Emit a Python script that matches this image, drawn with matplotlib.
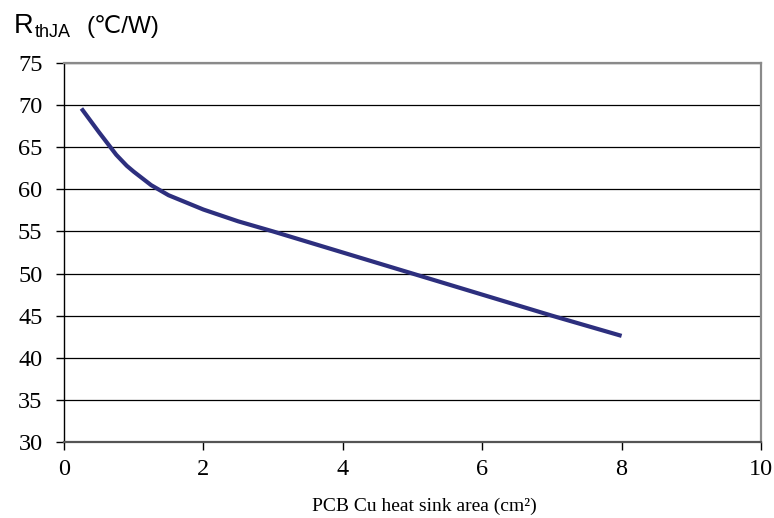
import matplotlib
matplotlib.use("Agg")
import matplotlib.pyplot as plt

# Data
area_cm2 = [0.25, 0.5, 0.75, 0.9, 1.0, 1.25, 1.5, 2.0, 2.5, 3.0, 4.0, 5.0, 6.0, 7.0, 8.0]
rth_ja = [69.6, 66.8, 64.1, 62.8, 62.1, 60.5, 59.3, 57.6, 56.2, 55.0, 52.5, 50.0, 47.5, 45.0, 42.6]
x_ticks = [0, 2, 4, 6, 8, 10]
y_ticks = [30, 35, 40, 45, 50, 55, 60, 65, 70, 75]
x_label = "PCB Cu heat sink area (cm²)"

W, H = 774, 518
fig = plt.figure(figsize=(W / 100, H / 100), dpi=100)
ax = fig.add_axes([64 / W, 1 - 442 / H, (761 - 64) / W, (442 - 63) / H])

ax.plot(area_cm2, rth_ja, color="#2D2F7E", lw=3.0, solid_capstyle="butt", solid_joinstyle="round", zorder=3)

ax.set_xlim(0, 10)
ax.set_ylim(30, 75)
ax.set_xticks(x_ticks)
ax.set_yticks(y_ticks)
ax.set_xticklabels([str(v) for v in x_ticks])
ax.set_yticklabels([str(v) for v in y_ticks])

serif = ["Liberation Serif", "DejaVu Serif"]
for lab in ax.get_xticklabels() + ax.get_yticklabels():
    lab.set_fontfamily(serif)
    lab.set_fontsize(17.5)

ax.tick_params(axis="y", direction="out", length=5.5, width=1, pad=10, colors="black")
ax.tick_params(axis="x", direction="out", length=6, width=1, pad=6, colors="black")

ax.grid(axis="y", color="black", lw=0.9)
ax.set_axisbelow(True)

ax.spines["left"].set_color("black")
ax.spines["left"].set_linewidth(1.0)
ax.spines["bottom"].set_color("#555555")
ax.spines["bottom"].set_linewidth(1.6)
ax.spines["top"].set_color("#8a8a8a")
ax.spines["top"].set_linewidth(1.6)
ax.spines["right"].set_color("#8a8a8a")
ax.spines["right"].set_linewidth(1.6)

fig.text(424 / W, 1 - 511 / H, x_label, ha="center", va="baseline",
         fontsize=14, family=serif)

sans = ["Liberation Sans", "DejaVu Sans"]
fig.text(14 / W, 1 - 33 / H, "R", ha="left", va="baseline", fontsize=19.5, family=sans)
fig.text(35 / W, 1 - 37 / H, "thJA", ha="left", va="baseline", fontsize=13, family=sans)
fig.text(87 / W, 1 - 33 / H, "(℃/W)", ha="left", va="baseline", fontsize=17.5, family=sans)

fig.savefig("out.png", dpi=100)
